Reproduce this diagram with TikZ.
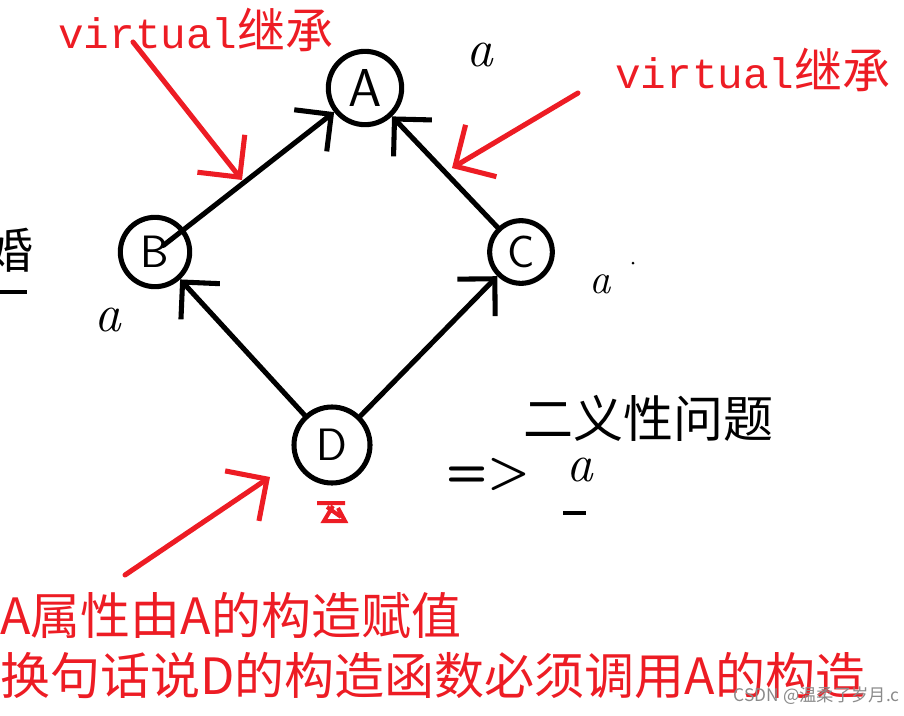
\documentclass[tikz,border=0pt]{standalone}
\usepackage{fontspec}
\newfontfamily\cjk{Noto Sans CJK SC}
\newfontfamily\monofnt{Liberation Mono}
\usetikzlibrary{arrows.meta}
\definecolor{redpen}{HTML}{ED1C24}
\definecolor{markgray}{HTML}{8A8A8A}

\begin{document}
\begin{tikzpicture}[x=0.75pt, y=-0.75pt,
  pen/.style={line width=3.8pt, line cap=round},
  blkarrow/.style={pen, -{Straight Barb[angle=90:28pt]}},
  redarrow/.style={pen, redpen, -{Straight Barb[angle=90:32pt]}},
  cls/.style={circle, draw, line width=3.8pt, inner sep=0pt, font=\sffamily\fontsize{34}{34}\selectfont},
  hand/.style={inner sep=0pt, font=\itshape\fontsize{40}{40}\selectfont},
  redtxt/.style={inner sep=0pt, text=redpen}]
\useasboundingbox (0,0) rectangle (904,715);

% diamond of classes
\node[cls, minimum size=55pt, font=\sffamily\fontsize{40}{40}\selectfont] (A) at (365,88) {A};
\node[cls, minimum size=52pt] (B) at (155,252) {B};
\node[cls, minimum size=47pt] (C) at (521,252) {C};
\node[cls, minimum size=57pt] (D) at (332,445) {D};

\draw[blkarrow, shorten <=8pt] (B.center) -- (A);
\draw[blkarrow] (C) -- (A);
\draw[blkarrow] (D) -- (B);
\draw[blkarrow] (D) -- (C);

% member a in each class
\node[hand] (aA) at (480,55) {a};
\node[hand] (aB) at (108,320) {a};
\node[hand, font=\itshape\fontsize{32}{32}\selectfont] (aC) at (600,284) {a};
\fill (633,263) circle (1.5);

% virtual inheritance notes
\node[redtxt, anchor=west] (virtL) at (58,30) {{\monofnt\fontsize{32}{32}\selectfont virtual}{\cjk\fontsize{36}{36}\selectfont 继承}};
\node[redtxt, anchor=west] (virtR) at (615,70) {{\monofnt\fontsize{32}{32}\selectfont virtual}{\cjk\fontsize{36}{36}\selectfont 继承}};
\coordinate (v1tail) at (133,42);
\coordinate (v1tip) at (242,180);
\coordinate (v2tail) at (578,93);
\coordinate (v2tip) at (452,168);
\draw[redarrow] (v1tail) -- (v1tip);
\draw[redarrow] (v2tail) -- (v2tip);

% ambiguity
\node[inner sep=0pt, font=\cjk\fontsize{37.5}{37.5}\selectfont] (amb) at (648,418) {二义性问题};
\node[inner sep=0pt, font=\sffamily\bfseries\fontsize{36}{36}\selectfont] (impl) at (488,474) {=>};
\node[hand] (aD) at (580,470) {a};
\draw[line width=2.6pt] (563,513) -- (586,513);

% cut-off word at the left edge
\node[inner sep=0pt, font=\cjk\fontsize{36}{36}\selectfont] (cut) at (10,250) {婚};
\draw[line width=2.6pt] (0,292) -- (27,292);

% mark under D
\draw[redpen, line width=3pt] (317,503) -- (345,503)
  (333,506) -- (324,521) -- (345,521) -- (338,508)
  (327,507) -- (341,517);

% construction note
\coordinate (v3tail) at (125,575);
\coordinate (v3tip) at (270,477);
\draw[redarrow] (v3tail) -- (v3tip);
\node[redtxt, anchor=west, font=\cjk\fontsize{37.5}{37.5}\selectfont] (note1) at (0,615) {A属性由A的构造赋值};
\node[redtxt, anchor=west, font=\cjk\fontsize{37.5}{37.5}\selectfont] (note2) at (0,676) {换句话说D的构造函数必须调用A的构造};

\node[inner sep=0pt, anchor=east, text=markgray, font=\cjk\fontsize{13}{13}\selectfont] (mark) at (900,696) {CSDN @温柔了岁月.c};
\end{tikzpicture}
\end{document}
